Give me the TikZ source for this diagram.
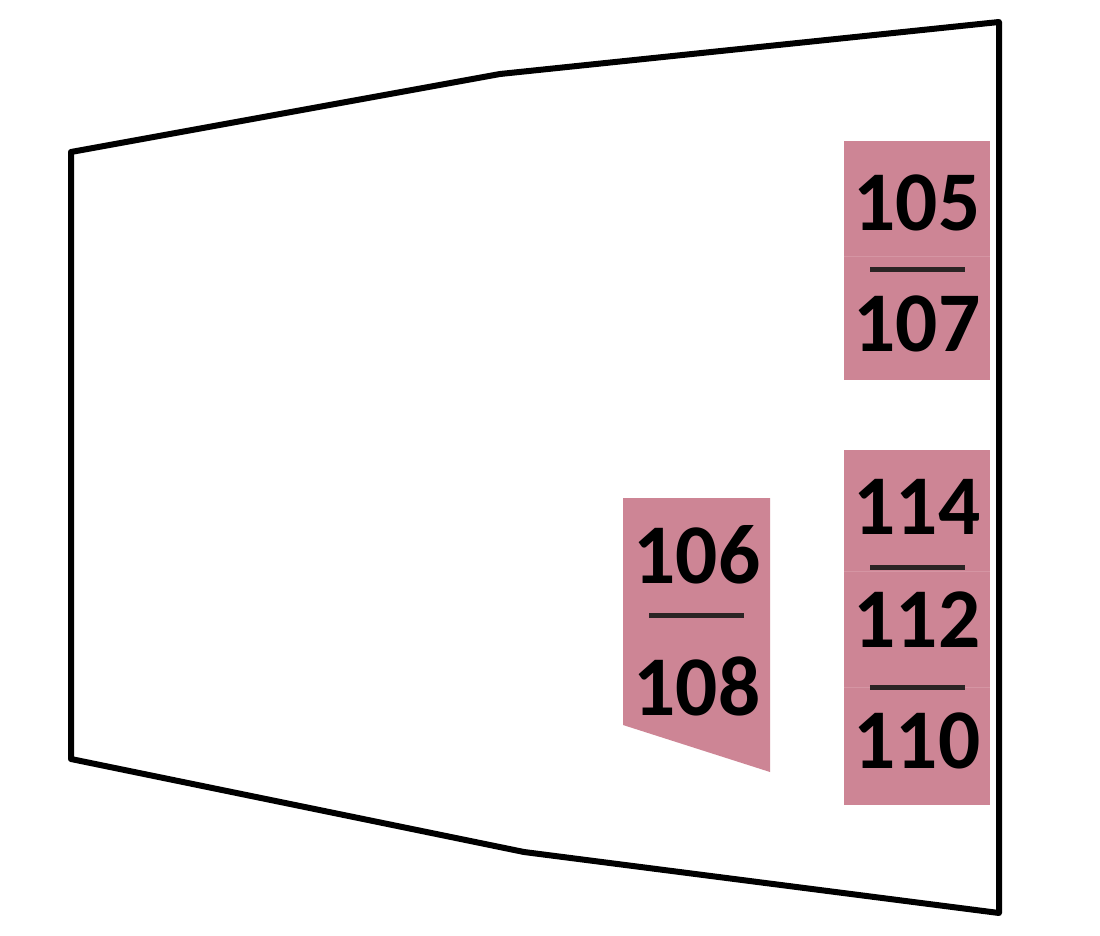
\documentclass[tikz,border=0pt]{standalone}
\usepackage{fontspec}
\newfontfamily\numfont{Carlito}
\definecolor{roompink}{HTML}{CD8595}
\definecolor{seampink}{HTML}{D595A3}
\definecolor{barline}{HTML}{2A2424}
\tikzset{
  px/.style={x=1pt,y=-1pt},
  room/.style={fill=roompink,draw=none},
  wall/.style={draw=black,line width=6pt,line cap=round,line join=round},
  bar/.style={draw=barline,line width=5pt},
  seam/.style={draw=seampink,line width=0.8pt},
  num/.style={font=\fontsize{85}{85}\numfont\bfseries,text=black,inner sep=0pt,anchor=center,xscale=0.98}
}
\begin{document}
\begin{tikzpicture}[px]
\useasboundingbox (0,0) rectangle (1100,936);
\fill[white] (0,0) rectangle (1100,936);
\fill[room] (844,141) rectangle (990,380);
\fill[room] (844,450) rectangle (990,805);
\fill[room] (623,498) -- (770,498) -- (770,772) -- (623,725) -- cycle;
\draw[seam] (844,256) -- (990,256);
\draw[seam] (844,571) -- (990,571);
\draw[seam] (844,687) -- (990,687);
\coordinate (w1) at (71,152);
\coordinate (w2) at (478,78);
\coordinate (w3) at (500,74);
\coordinate (w4) at (999,22);
\coordinate (w5) at (999,913);
\coordinate (w6) at (524,852);
\coordinate (w7) at (71,759);
\draw[wall] (w1) -- (w2) -- (w3) -- (w4) -- (w5) -- (w6) -- (w7) -- cycle;
\coordinate (b1a) at (870,269); \coordinate (b1b) at (965,269);
\coordinate (b2a) at (649,615); \coordinate (b2b) at (744,615);
\coordinate (b3a) at (870,567); \coordinate (b3b) at (965,567);
\coordinate (b4a) at (870,687); \coordinate (b4b) at (965,687);
\draw[bar] (b1a) -- (b1b);
\draw[bar] (b2a) -- (b2b);
\draw[bar] (b3a) -- (b3b);
\draw[bar] (b4a) -- (b4b);
\node[num] (n105) at (917,203) {105};
\node[num] (n107) at (917,324) {107};
\node[num] (n114) at (917,507) {114};
\node[num] (n112) at (917,620) {112};
\node[num] (n110) at (917,741) {110};
\node[num] (n106) at (697,555) {106};
\node[num] (n108) at (697,686) {108};
\end{tikzpicture}
\end{document}
